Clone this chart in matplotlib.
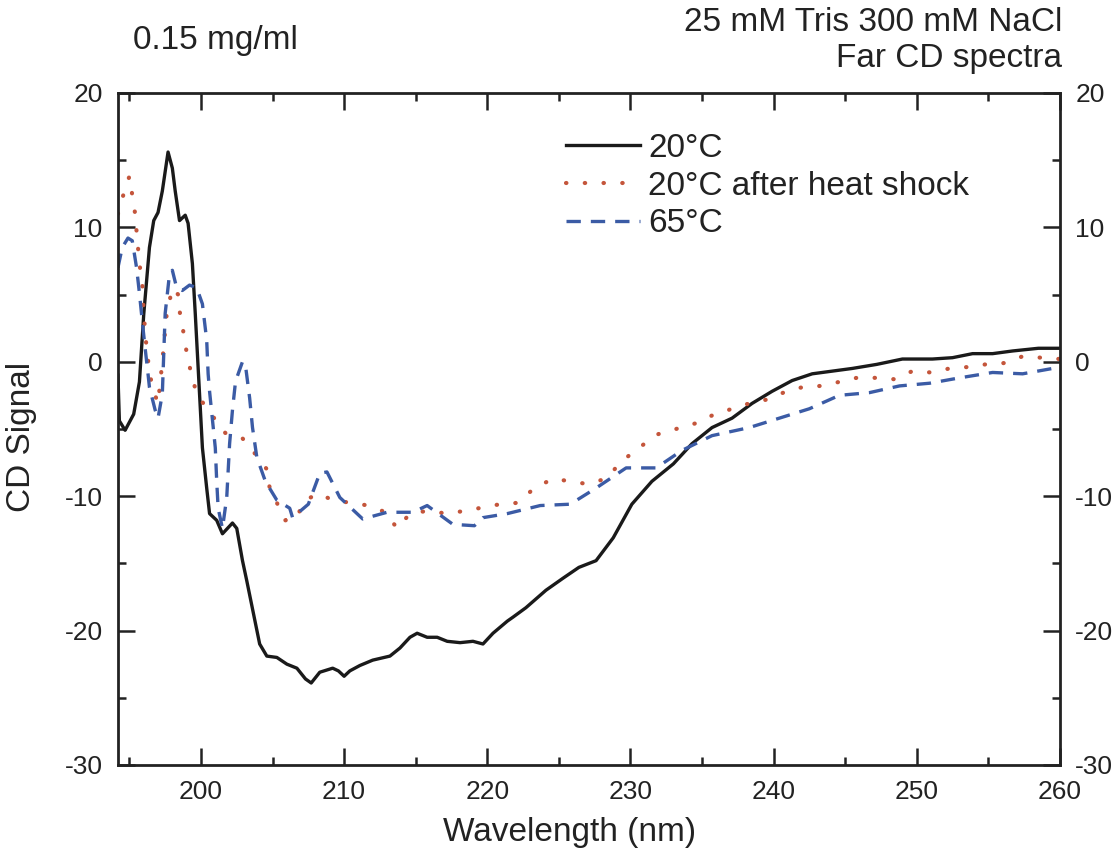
import matplotlib
matplotlib.use("Agg")
import matplotlib.pyplot as plt
from matplotlib.ticker import MultipleLocator

plt.rcParams['font.family'] = ['Liberation Sans', 'DejaVu Sans']
plt.rcParams['axes.unicode_minus'] = False

# 20 C
wl_20 = [194.2, 194.3, 194.7, 195.3, 195.7, 196.0, 196.4, 196.7, 197.0, 197.3, 197.7, 198.0, 198.2, 198.5,
         198.9, 199.1, 199.4, 199.6, 199.9, 200.1, 200.4, 200.6, 201.1, 201.5, 202.2, 202.5, 202.9, 203.2,
         204.1, 204.6, 205.3, 206.0, 206.7, 207.3, 207.7, 208.3, 209.2, 209.6, 210.0, 210.4, 211.1, 212.0,
         213.2, 213.9, 214.6, 215.1, 215.8, 216.5, 217.2, 218.1, 219.0, 219.7, 220.4, 221.4, 221.8, 222.7,
         224.1, 225.3, 226.4, 227.6, 228.8, 230.1, 231.5, 233.0, 234.3, 235.7, 237.1, 238.5, 239.9, 241.3,
         242.7, 244.1, 245.5, 247.2, 249.0, 251.1, 252.5, 253.9, 255.3, 256.7, 258.5, 260.0]
cd_20 = [-1.0, -4.4, -5.1, -3.9, -1.5, 3.5, 8.5, 10.5, 11.1, 12.7, 15.6, 14.4, 12.7, 10.5,
         10.9, 10.3, 7.3, 3.6, -2.4, -6.4, -9.4, -11.3, -11.8, -12.8, -12.0, -12.4, -14.8, -16.3,
         -21.0, -21.9, -22.0, -22.5, -22.8, -23.6, -23.9, -23.1, -22.8, -23.0, -23.4, -23.0, -22.6, -22.2,
         -21.9, -21.3, -20.5, -20.2, -20.5, -20.5, -20.8, -20.9, -20.8, -21.0, -20.2, -19.3, -19.0, -18.3,
         -17.0, -16.1, -15.3, -14.8, -13.1, -10.6, -8.9, -7.6, -6.1, -4.9, -4.2, -3.1, -2.2, -1.4,
         -0.9, -0.7, -0.5, -0.2, 0.2, 0.2, 0.3, 0.6, 0.6, 0.8, 1.0, 1.0]

# 20 C after heat shock
wl_hs = [194.2, 194.6, 195.0, 195.4, 195.5, 195.7, 195.9, 196.0, 196.2, 196.4, 196.6, 197.0, 197.3, 197.6,
         198.0, 198.4, 198.5, 198.7, 198.9, 199.1, 199.4, 199.7, 200.5, 201.7, 202.9, 203.6, 204.6, 204.8,
         205.9, 206.6, 207.3, 208.2, 209.2, 210.5, 211.7, 212.9, 213.7, 214.6, 215.8, 217.2, 218.4, 220.9,
         222.1, 223.3, 224.6, 225.8, 227.0, 228.3, 229.4, 230.6, 231.9, 233.2, 234.5, 235.7, 237.1, 238.3,
         239.6, 240.9, 242.0, 243.3, 244.6, 245.8, 247.2, 248.4, 249.7, 251.0, 252.3, 253.5, 254.8, 256.1,
         257.4, 258.7, 260.0]
cd_hs = [11.0, 12.5, 13.8, 11.0, 9.7, 7.3, 5.8, 3.6, 1.0, -0.7, -1.9, -3.1, 0.0, 3.5,
         5.5, 5.0, 3.8, 2.7, 1.3, 0.1, -1.2, -2.4, -3.6, -5.3, -5.7, -6.6, -8.0, -9.4,
         -11.8, -11.7, -10.3, -9.8, -10.3, -10.5, -10.7, -11.2, -12.4, -11.3, -11.1, -11.3, -11.1, -10.6,
         -10.5, -9.4, -8.7, -8.9, -9.1, -8.7, -7.4, -6.4, -5.4, -5.0, -4.6, -4.0, -3.5, -3.1,
         -2.8, -2.2, -1.9, -1.8, -1.5, -1.2, -1.2, -1.3, -0.7, -0.8, -0.5, -0.4, -0.2, -0.1,
         0.4, 0.3, 0.2]

# 65 C
wl_65 = [194.2, 194.5, 194.9, 195.2, 195.5, 195.7, 195.9, 196.1, 196.3, 196.4, 196.8, 197.0, 197.3, 197.5,
         197.8, 198.0, 198.3, 198.7, 199.2, 199.7, 200.1, 200.4, 200.5, 200.6, 201.0, 201.1, 201.2, 201.5,
         201.8, 202.0, 202.2, 202.4, 202.5, 202.9, 203.1, 203.4, 203.6, 203.9, 204.5, 205.3, 206.2, 206.4,
         207.5, 208.3, 208.8, 209.7, 211.3, 213.0, 214.8, 215.8, 217.6, 219.1, 219.7, 221.4, 223.7, 225.8,
         227.6, 229.7, 231.8, 233.6, 235.7, 238.3, 240.4, 242.5, 244.6, 246.7, 248.8, 250.9, 253.0, 255.3,
         257.4, 259.5, 260.0]
cd_65 = [7.0, 8.5, 9.2, 9.0, 7.0, 5.1, 3.0, 1.0, -0.9, -1.9, -3.6, -4.2, -2.4, 3.6,
         6.5, 6.8, 5.5, 5.3, 5.7, 5.5, 4.3, 1.6, -0.9, -2.2, -6.4, -8.9, -10.9, -12.4,
         -10.1, -6.1, -3.6, -1.6, -1.2, 0.0, -0.2, -2.7, -4.9, -7.1, -8.9, -10.3, -10.9, -11.6,
         -10.6, -8.3, -8.2, -10.1, -11.7, -11.2, -11.2, -10.7, -12.1, -12.2, -11.6, -11.3, -10.7, -10.6,
         -9.4, -7.9, -7.9, -6.6, -5.5, -4.9, -4.2, -3.5, -2.5, -2.3, -1.8, -1.6, -1.2, -0.8,
         -0.9, -0.5, -0.5]

fig = plt.figure(figsize=(11.18, 8.6), dpi=100)
ax = fig.add_axes([0.1055, 0.1105, 0.8425, 0.7815])

ax.plot(wl_20, cd_20, color='#1a1a1a', lw=2.4, label='20°C')
ax.plot(wl_hs, cd_hs, color='#c4553b', lw=3.0, linestyle=(0, (0.1, 4.4)),
        dash_capstyle='round', label='20°C after heat shock')
ax.plot(wl_65, cd_65, color='#3b5ba5', lw=2.4, linestyle=(0, (4.3, 3.0)),
        label='65°C')

ax.set_xlim(194.2, 260)
ax.set_ylim(-30, 20)
ax.xaxis.set_major_locator(MultipleLocator(10))
ax.xaxis.set_minor_locator(MultipleLocator(5))
ax.yaxis.set_major_locator(MultipleLocator(10))
ax.yaxis.set_minor_locator(MultipleLocator(5))
ax.tick_params(which='both', direction='in', top=True, right=True, labelright=True,
               labelsize=19, width=1.8, pad=11, colors='#222222')
ax.tick_params(which='major', length=12)
ax.tick_params(which='minor', length=6)
for s in ax.spines.values():
    s.set_linewidth(2)
    s.set_color('#222222')

ax.set_xlabel('Wavelength (nm)', fontsize=24, color='#222222')
ax.set_ylabel('CD Signal', fontsize=24, color='#222222')
ax.xaxis.set_label_coords(0.479, -0.078)
ax.yaxis.set_label_coords(-0.086, 0.488)

ax.legend(loc='upper left', bbox_to_anchor=(0.462, 0.96), frameon=False, fontsize=24,
          handlelength=2.2, handletextpad=0.25, labelspacing=0.2, borderaxespad=0,
          labelcolor='#222222')

fig.text(0.119, 0.953, '0.15 mg/ml', fontsize=24, va='center', color='#222222')
fig.text(0.95, 0.974, '25 mM Tris 300 mM NaCl', fontsize=24, ha='right', va='center', color='#222222')
fig.text(0.95, 0.932, 'Far CD spectra', fontsize=24, ha='right', va='center', color='#222222')

fig.savefig('out.png', dpi=100)
